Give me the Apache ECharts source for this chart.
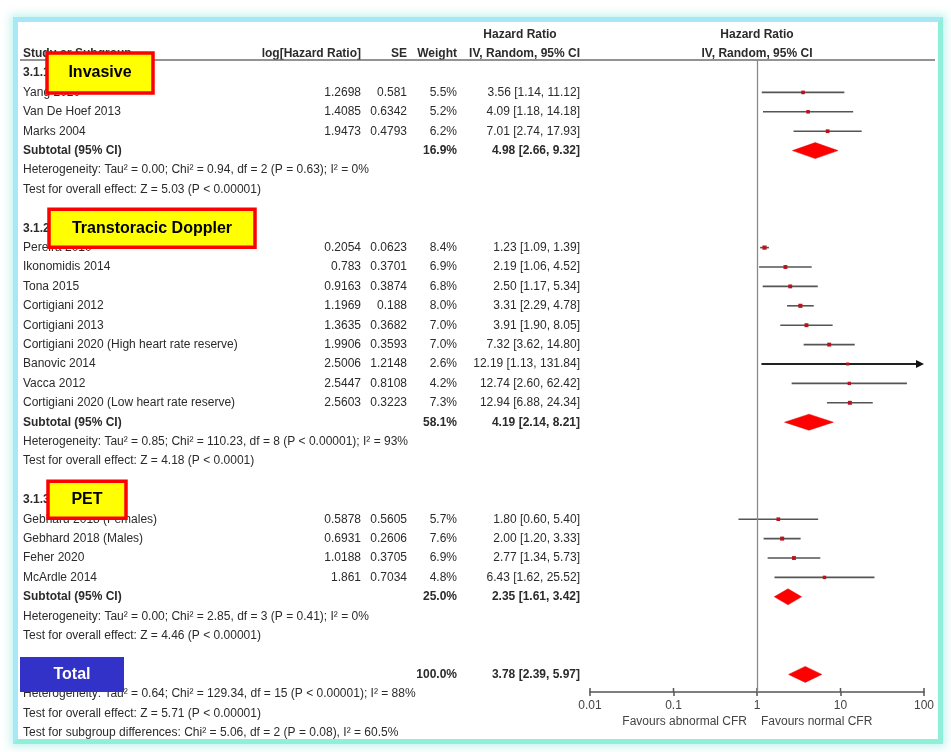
<!DOCTYPE html>
<html>
<head>
<meta charset="utf-8">
<title>Forest plot - CFR and hazard ratio</title>
<script src="https://cdn.jsdelivr.net/npm/echarts@6/dist/echarts.min.js"></script>
<style>
  html, body { margin: 0; padding: 0; background: #fff; }
  #frame {
    position: absolute; left: 13px; top: 17px; width: 930px; height: 727px;
    box-sizing: border-box; background: #fff;
    border: 5px solid; border-color: #a6e8f6 #90efd9 #90efd9 #a6e8f6;
    box-shadow: 0 0 8px 3px rgba(150, 235, 228, 0.55);
  }
  #chart { position: absolute; left: 0; top: 0; width: 951px; height: 752px; }
</style>
</head>
<body>
<div id="frame"></div>
<div id="chart"></div>
<script>
// ---- data ----
const sectionIds = ["3.1.1", "3.1.2", "3.1.3"];
const sectionTags = ["Invasive", "Transtoracic Doppler", "PET"];

const studyNames = [
  "Yang 2020", "Van De Hoef 2013", "Marks 2004",
  "Pereira 2010", "Ikonomidis 2014", "Tona 2015", "Cortigiani 2012", "Cortigiani 2013",
  "Cortigiani 2020 (High heart rate reserve)", "Banovic 2014", "Vacca 2012",
  "Cortigiani 2020 (Low heart rate reserve)",
  "Gebhard 2018 (Females)", "Gebhard 2018 (Males)", "Feher 2020", "McArdle 2014",
];
const studySection = [0, 0, 0, 1, 1, 1, 1, 1, 1, 1, 1, 1, 2, 2, 2, 2];
const logHR = [1.2698, 1.4085, 1.9473, 0.2054, 0.783, 0.9163, 1.1969, 1.3635, 1.9906, 2.5006, 2.5447, 2.5603, 0.5878, 0.6931, 1.0188, 1.861];
const seValues = [0.581, 0.6342, 0.4793, 0.0623, 0.3701, 0.3874, 0.188, 0.3682, 0.3593, 1.2148, 0.8108, 0.3223, 0.5605, 0.2606, 0.3705, 0.7034];
const weights = [5.5, 5.2, 6.2, 8.4, 6.9, 6.8, 8.0, 7.0, 7.0, 2.6, 4.2, 7.3, 5.7, 7.6, 6.9, 4.8];
const hrEst = [3.56, 4.09, 7.01, 1.23, 2.19, 2.50, 3.31, 3.91, 7.32, 12.19, 12.74, 12.94, 1.80, 2.00, 2.77, 6.43];
const hrLow = [1.14, 1.18, 2.74, 1.09, 1.06, 1.17, 2.29, 1.90, 3.62, 1.13, 2.60, 6.88, 0.60, 1.20, 1.34, 1.62];
const hrHigh = [11.12, 14.18, 17.93, 1.39, 4.52, 5.34, 4.78, 8.05, 14.80, 131.84, 62.42, 24.34, 5.40, 3.33, 5.73, 25.52];

const subWeight = [16.9, 58.1, 25.0];
const subEst = [4.98, 4.19, 2.35];
const subLow = [2.66, 2.14, 1.61];
const subHigh = [9.32, 8.21, 3.42];
const hetNotes = [
  "Heterogeneity: Tau² = 0.00; Chi² = 0.94, df = 2 (P = 0.63); I² = 0%",
  "Heterogeneity: Tau² = 0.85; Chi² = 110.23, df = 8 (P < 0.00001); I² = 93%",
  "Heterogeneity: Tau² = 0.00; Chi² = 2.85, df = 3 (P = 0.41); I² = 0%",
];
const effectNotes = [
  "Test for overall effect: Z = 5.03 (P < 0.00001)",
  "Test for overall effect: Z = 4.18 (P < 0.0001)",
  "Test for overall effect: Z = 4.46 (P < 0.00001)",
];

const totalLabel = "Total";
const totalWeight = 100.0;
const totalEst = 3.78;
const totalLow = 2.39;
const totalHigh = 5.97;
const totalNotes = [
  "Heterogeneity: Tau² = 0.64; Chi² = 129.34, df = 15 (P < 0.00001); I² = 88%",
  "Test for overall effect: Z = 5.71 (P < 0.00001)",
  "Test for subgroup differences: Chi² = 5.06, df = 2 (P = 0.08), I² = 60.5%",
];

const axisTicks = [0.01, 0.1, 1, 10, 100];
const favourLabels = ["Favours abnormal CFR", "Favours normal CFR"];

// ---- layout ----
const ROW_H = 19.4;
const ROW0_Y = 73;
const PLOT_TOP = 60;
const AXIS_Y = 692;
const toRow = (py) => (py - ROW0_Y) / ROW_H;

const FONT = '12px "Liberation Sans", Arial, sans-serif';
const BOLD = 'bold 12px "Liberation Sans", Arial, sans-serif';
const INK = "#2b2b2b";

const COL = { name: 23, logHR: 361, se: 407, weight: 457, ci: 580, hrHead: 520 };
const TAG_X = [47, 49, 48];
const TAG_W = [106, 206, 78];
const TAG_H = [40, 38, 37];

// row numbering: each section = head, studies, subtotal, heterogeneity, effect, blank
let row = 0;
const headRow = [], studyRow = [], subRow = [], hetRow = [], effRow = [];
sectionIds.forEach((id, s) => {
  headRow[s] = row++;
  studyNames.forEach((n, i) => { if (studySection[i] === s) studyRow[i] = row++; });
  subRow[s] = row++;
  hetRow[s] = row++;
  effRow[s] = row++;
  row++;
});
const totalRow = row++;
const noteRows = totalNotes.map(() => row++);

const fmtCI = (e, l, h) => `${e.toFixed(2)} [${l.toFixed(2)}, ${h.toFixed(2)}]`;
const fmtW = (w) => `${w.toFixed(1)}%`;

// table texts
const texts = [];
const add = (x, r, text, align, font) => texts.push({ x, r, text, align, font: font || FONT });

add(COL.hrHead, -2, "Hazard Ratio", "center", BOLD);
add(COL.name, -1, "Study or Subgroup", "left", BOLD);
add(COL.logHR, -1, "log[Hazard Ratio]", "right", BOLD);
add(COL.se, -1, "SE", "right", BOLD);
add(COL.weight, -1, "Weight", "right", BOLD);
add(COL.ci, -1, "IV, Random, 95% CI", "right", BOLD);

sectionIds.forEach((id, s) => {
  add(COL.name, headRow[s], id + " " + sectionTags[s], "left", BOLD);
  add(COL.name, subRow[s], "Subtotal (95% CI)", "left", BOLD);
  add(COL.weight, subRow[s], fmtW(subWeight[s]), "right", BOLD);
  add(COL.ci, subRow[s], fmtCI(subEst[s], subLow[s], subHigh[s]), "right", BOLD);
  add(COL.name, hetRow[s], hetNotes[s], "left");
  add(COL.name, effRow[s], effectNotes[s], "left");
});
studyNames.forEach((n, i) => {
  const r = studyRow[i];
  add(COL.name, r, n, "left");
  add(COL.logHR, r, String(logHR[i]), "right");
  add(COL.se, r, String(seValues[i]), "right");
  add(COL.weight, r, fmtW(weights[i]), "right");
  add(COL.ci, r, fmtCI(hrEst[i], hrLow[i], hrHigh[i]), "right");
});
add(COL.name, totalRow, "Total (95% CI)", "left", BOLD);
add(COL.weight, totalRow, fmtW(totalWeight), "right", BOLD);
add(COL.ci, totalRow, fmtCI(totalEst, totalLow, totalHigh), "right", BOLD);
totalNotes.forEach((t, k) => add(COL.name, noteRows[k], t, "left"));

function textEl(x, y, text, align, font, fill) {
  return {
    type: "text", x, y,
    style: {
      text, font, fill: fill || INK,
      align, textAlign: align, verticalAlign: "middle", textVerticalAlign: "middle",
    },
  };
}

const chart = echarts.init(document.getElementById("chart"), null, { renderer: "canvas" });

const X_MAX = axisTicks[axisTicks.length - 1];
const tickStyle = { color: "#555", width: 1.5 };

chart.setOption({
  animation: false,
  grid: [
    { left: 590, right: 951 - 924, top: PLOT_TOP, bottom: 752 - AXIS_Y },
    { left: 20, right: 16, top: 0, bottom: 0 },
  ],
  xAxis: [
    {
      type: "log", logBase: 10, gridIndex: 0, min: axisTicks[0], max: X_MAX, position: "bottom",
      axisLine: { show: true, onZero: false, lineStyle: { color: "#555", width: 1.5 } },
      axisTick: { show: true, inside: false, length: 4, lineStyle: tickStyle, customValues: axisTicks },
      axisLabel: { show: true, margin: 8, color: "#444", fontSize: 12, fontFamily: '"Liberation Sans", Arial, sans-serif', customValues: axisTicks, formatter: (v) => String(v) },
      splitLine: { show: false },
      minorTick: { show: false },
    },
    { type: "value", gridIndex: 1, min: 20, max: 935, show: false },
  ],
  yAxis: [
    { type: "value", gridIndex: 0, inverse: true, min: toRow(PLOT_TOP), max: toRow(AXIS_Y), show: false },
    { type: "value", gridIndex: 1, inverse: true, min: toRow(0), max: toRow(752), show: false },
  ],
  series: [
    // table text
    {
      type: "custom", xAxisIndex: 1, yAxisIndex: 1, silent: true,
      data: texts.map((t) => [t.x, t.r]),
      renderItem: (params, api) => {
        const t = texts[params.dataIndex];
        const p = api.coord([api.value(0), api.value(1)]);
        return textEl(p[0], p[1], t.text, t.align, t.font);
      },
      markLine: {
        silent: true, symbol: ["none", "none"], label: { show: false },
        lineStyle: { color: "#6f6f6f", width: 1.5, type: "solid" },
        data: [{ yAxis: toRow(PLOT_TOP) }],
      },
    },
    // subgroup tag boxes
    {
      type: "custom", xAxisIndex: 1, yAxisIndex: 1, silent: true, z: 5,
      data: sectionTags.map((t, s) => [TAG_X[s], headRow[s]]).concat([[20, totalRow]]),
      renderItem: (params, api) => {
        const i = params.dataIndex;
        const p = api.coord([api.value(0), api.value(1)]);
        const isTotal = i === sectionTags.length;
        const w = isTotal ? 104 : TAG_W[i];
        const h = isTotal ? 35 : TAG_H[i];
        const label = isTotal ? totalLabel : sectionTags[i];
        return {
          type: "group",
          children: [
            {
              type: "rect",
              shape: { x: p[0], y: p[1] - h / 2, width: w, height: h },
              style: isTotal
                ? { fill: "#3232c8" }
                : { fill: "#ffff00", stroke: "#ff0000", lineWidth: 3.5 },
            },
            textEl(p[0] + w / 2, p[1], label, "center",
              'bold 16px "Liberation Sans", Arial, sans-serif', isTotal ? "#ffffff" : "#000000"),
          ],
        };
      },
    },
    // upward half of the axis ticks (the axis itself draws the downward half)
    {
      type: "custom", xAxisIndex: 0, yAxisIndex: 0, silent: true,
      data: axisTicks.map((v) => [v, toRow(AXIS_Y)]),
      renderItem: (params, api) => {
        const p = api.coord([api.value(0), api.value(1)]);
        return { type: "line", shape: { x1: p[0], y1: p[1], x2: p[0], y2: p[1] - 4 },
          style: { stroke: tickStyle.color, lineWidth: tickStyle.width } };
      },
    },
    // plot headers and favour labels
    {
      type: "custom", xAxisIndex: 0, yAxisIndex: 0, silent: true,
      data: [[1, -2], [1, -1]],
      renderItem: (params, api) => {
        const p = api.coord([api.value(0), api.value(1)]);
        const txt = params.dataIndex === 0 ? "Hazard Ratio" : "IV, Random, 95% CI";
        return textEl(p[0], p[1], txt, "center", BOLD);
      },
    },
    {
      type: "custom", xAxisIndex: 0, yAxisIndex: 0, silent: true,
      data: [[1, toRow(AXIS_Y)], [1, toRow(AXIS_Y)]],
      renderItem: (params, api) => {
        const p = api.coord([api.value(0), api.value(1)]);
        const left = params.dataIndex === 0;
        return textEl(left ? p[0] - 10 : p[0] + 4, p[1] + 30, favourLabels[params.dataIndex],
          left ? "right" : "left", FONT, "#444");
      },
    },
    // study CIs and point estimates
    {
      type: "custom", xAxisIndex: 0, yAxisIndex: 0, silent: true, z: 3,
      data: studyNames.map((n, i) => [hrEst[i], studyRow[i], hrLow[i], hrHigh[i], weights[i]]),
      renderItem: (params, api) => {
        const r = api.value(1);
        const c = api.coord([api.value(0), r]);
        const lo = api.coord([api.value(2), r])[0];
        const hiVal = api.value(3);
        const cut = hiVal > X_MAX;
        const hi = api.coord([Math.min(hiVal, X_MAX), r])[0];
        const sz = 2.5 + api.value(4) * 0.2;
        const y = c[1];
        const children = [
          { type: "line", shape: { x1: lo, y1: y, x2: cut ? hi - 5 : hi, y2: y },
            style: { stroke: cut ? "#222" : "#555", lineWidth: cut ? 2 : 1.6 } },
          { type: "rect", shape: { x: c[0] - sz / 2, y: y - sz / 2, width: sz, height: sz },
            style: { fill: "#b8141e" } },
        ];
        if (cut) {
          children.push({ type: "polygon", shape: { points: [[hi, y], [hi - 8, y - 4], [hi - 8, y + 4]] },
            style: { fill: "#111" } });
        }
        return { type: "group", children };
      },
    },
    // pooled diamonds + line of no effect
    {
      type: "custom", xAxisIndex: 0, yAxisIndex: 0, silent: true, z: 3,
      data: subEst.map((e, s) => [e, subRow[s], subLow[s], subHigh[s]])
        .concat([[totalEst, totalRow, totalLow, totalHigh]]),
      renderItem: (params, api) => {
        const r = api.value(1);
        const c = api.coord([api.value(0), r]);
        const lo = api.coord([api.value(2), r])[0];
        const hi = api.coord([api.value(3), r])[0];
        const h = 8;
        return {
          type: "polygon",
          shape: { points: [[lo, c[1]], [c[0], c[1] - h], [hi, c[1]], [c[0], c[1] + h]] },
          style: { fill: "#ff0000", stroke: "#e60000", lineWidth: 0.5 },
        };
      },
      markLine: {
        silent: true, symbol: ["none", "none"], label: { show: false },
        lineStyle: { color: "#8a8a8a", width: 1.3, type: "solid" },
        data: [{ xAxis: 1 }],
      },
    },
  ],
});
</script>
</body>
</html>
